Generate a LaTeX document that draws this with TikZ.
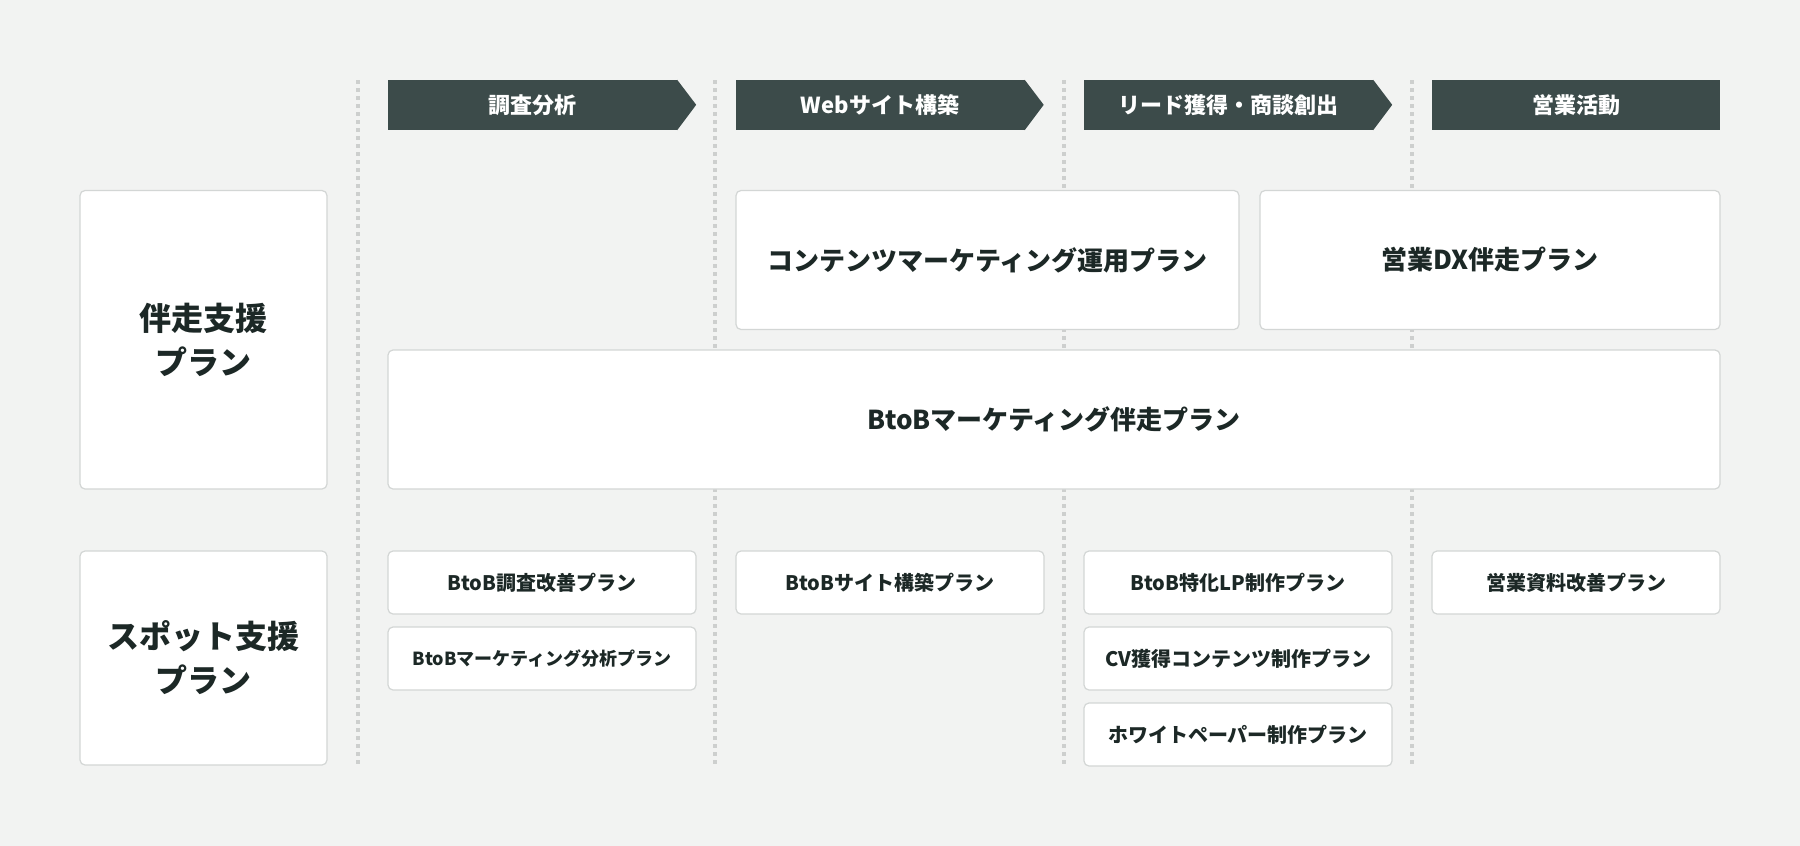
\documentclass[tikz,border=0pt]{standalone}
\usepackage{fontspec}
\setmainfont{Noto Sans CJK JP}
\usepackage{xcolor}
\usepackage{tikz}
\usetikzlibrary{positioning}

\definecolor{bgcol}{HTML}{F2F3F2}
\definecolor{headcol}{HTML}{3C4B4A}
\definecolor{inkcol}{HTML}{1C2826}
\definecolor{edgecol}{HTML}{D3D6D5}
\definecolor{dotcol}{HTML}{CDCFCE}

\begin{document}
\begin{tikzpicture}
  [x=1pt,y=-1pt,
  stage/.style={rectangle,fill=headcol,text=white,inner sep=0pt,minimum height=50pt,
    font=\bfseries\fontsize{22}{26}\selectfont},
  plan/.style={rectangle,rounded corners=5pt,draw=edgecol,fill=white,line width=1.2pt,
    inner sep=0pt,text=inkcol,align=center},
  kind/.style={plan,minimum width=247pt,font=\bfseries\fontsize{32}{44}\selectfont},
  wide/.style={plan,minimum height=139pt,font=\bfseries\fontsize{26}{30}\selectfont},
  spot/.style={plan,minimum height=63pt,font=\bfseries\fontsize{20}{24}\selectfont},
  divider/.style={dotcol,line width=3.5pt,dash pattern=on 4pt off 4pt}
  ]
  \fill[bgcol] (0,0) rectangle (1800,846);
  \useasboundingbox (0,0) rectangle (1800,846);

  % column dividers
  \foreach \x in {358,715,1064,1412}
    \draw[divider] (\x,80) -- (\x,765);

  % stages
  \node[stage,minimum width=289pt] (research) at (532.5,105) {調査分析};
  \node[stage,minimum width=289pt] (website) at (880,105) {Webサイト構築};
  \node[stage,minimum width=289pt] (leads) at (1228.5,105) {リード獲得・商談創出};
  \node[stage,minimum width=288pt] (sales) at (1576,105) {営業活動};
  \fill[headcol] (research.north east) -- ++(19,25) -- (research.south east) -- cycle;
  \fill[headcol] (website.north east) -- ++(19,25) -- (website.south east) -- cycle;
  \fill[headcol] (leads.north east) -- ++(19,25) -- (leads.south east) -- cycle;

  % plan kinds
  \node[kind,minimum height=298.5pt] (ongoing) at (203.5,339.75) {伴走支援\\プラン};
  \node[kind,minimum height=214pt] (oneoff) at (203.5,658) {スポット支援\\プラン};

  % ongoing plans
  \node[wide,minimum width=503pt] (content) at (987.5,260) {コンテンツマーケティング運用プラン};
  \node[wide,minimum width=460pt] (salesdx) at (1490,260) {営業DX伴走プラン};
  \node[wide,minimum width=1332pt] (btobrun) at (1054,419.5) {BtoBマーケティング伴走プラン};

  % spot plans
  \node[spot,minimum width=308pt] (survey) at (542,582.5) {BtoB調査改善プラン};
  \node[spot,minimum width=308pt,font=\bfseries\fontsize{18}{22}\selectfont] (analysis)
    [below = 11.8pt of survey] {BtoBマーケティング分析プラン};
  \node[spot,minimum width=308pt] (sitebuild) at (890,582.5) {BtoBサイト構築プラン};
  \node[spot,minimum width=308pt] (landing) at (1238,582.5) {BtoB特化LP制作プラン};
  \node[spot,minimum width=308pt] (cvcontent) [below = 11.8pt of landing] {CV獲得コンテンツ制作プラン};
  \node[spot,minimum width=308pt] (paper) [below = 11.8pt of cvcontent] {ホワイトペーパー制作プラン};
  \node[spot,minimum width=288pt] (material) at (1576,582.5) {営業資料改善プラン};
\end{tikzpicture}
\end{document}
